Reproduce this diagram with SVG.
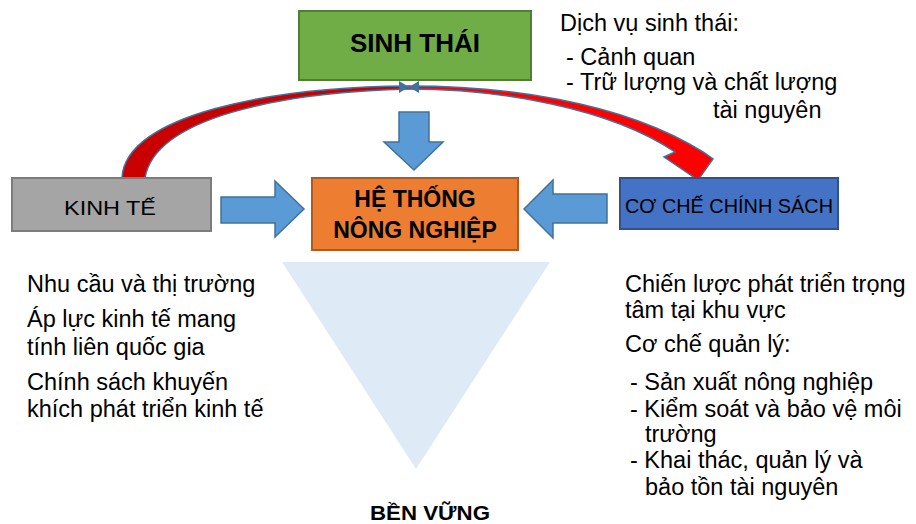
<svg xmlns="http://www.w3.org/2000/svg" width="916" height="524" viewBox="0 0 916 524">
<style>
.t{font-family:"Liberation Sans",Arial,sans-serif;fill:#000}
.b{font-weight:bold}
.arr{fill:#5B9BD5;stroke:#41719C;stroke-width:1.5;stroke-linejoin:miter}
.body{font-size:23.5px}
</style>
<rect width="916" height="524" fill="#fff"/>
<polygon id="tri" points="282,262 550,262 416,469" fill="#DEEAF6"/>
<g id="connectors">
  <path d="M122,178 C125,115 270,87 409,86 L409,89 C280,92 155,118 145,178 Z" fill="#C80000" stroke="#41719C" stroke-width="1.5"/>
  <path d="M409,86 C500,86 620,100 703,152 L713,159 L698,180 L664,157 L675,152 C610,108 500,89 409,89 Z" fill="#FF0000" stroke="#41719C" stroke-width="1.5"/>
  <polygon points="399,81 419,93 419,81 399,93" fill="#41719C"/>
  <polygon class="arr" points="399,112 429,112 429,142 443,142 414,170 384,142 399,142"/>
  <polygon class="arr" points="221,197 275,197 275,181 304,209 275,237 275,223 221,223"/>
  <polygon class="arr" points="607,194 553,194 553,180 524,209 553,238 553,223 607,223"/>
</g>
<g id="sinhthai">
  <rect x="299" y="11" width="232" height="69" fill="#70AD47" stroke="#507E32" stroke-width="2"/>
  <text class="t b" x="415" y="52" font-size="26" text-anchor="middle">SINH THÁI</text>
</g>
<g id="kinhte">
  <rect x="12" y="178" width="199" height="53" fill="#A5A5A5" stroke="#7C7C7C" stroke-width="2"/>
  <text class="t" x="64" y="215" font-size="21" textLength="92" lengthAdjust="spacingAndGlyphs">KINH TẾ</text>
</g>
<g id="hethong">
  <rect x="312" y="178" width="206" height="72" fill="#ED7D31" stroke="#AE5A21" stroke-width="2"/>
  <text class="t b" x="415" y="207" font-size="23" text-anchor="middle">HỆ THỐNG</text>
  <text class="t b" x="415" y="238" font-size="23" text-anchor="middle">NÔNG NGHIỆP</text>
</g>
<g id="cochevchinhsach">
  <rect x="620" y="178" width="218" height="51" fill="#4472C4" stroke="#2F528F" stroke-width="2"/>
  <text class="t" x="625" y="213" font-size="19.5" textLength="208" lengthAdjust="spacingAndGlyphs">CƠ CHẾ CHÍNH SÁCH</text>
</g>
<g id="dichvu" class="t body">
  <text x="560" y="31">Dịch vụ sinh thái:</text>
  <text x="566" y="65">- Cảnh quan</text>
  <text x="566" y="90">- Trữ lượng và chất lượng</text>
  <text x="713" y="118">tài nguyên</text>
</g>
<g id="kinhte-text" class="t body">
  <text x="27" y="292">Nhu cầu và thị trường</text>
  <text x="27" y="327">Áp lực kinh tế mang</text>
  <text x="27" y="355">tính liên quốc gia</text>
  <text x="27" y="390">Chính sách khuyến</text>
  <text x="27" y="417">khích phát triển kinh tế</text>
</g>
<g id="chinhsach-text" class="t body">
  <text x="625" y="292">Chiến lược phát triển trọng</text>
  <text x="625" y="318">tâm tại khu vực</text>
  <text x="625" y="352">Cơ chế quản lý:</text>
  <text x="630" y="390">- Sản xuất nông nghiệp</text>
  <text x="630" y="417">- Kiểm soát và bảo vệ môi</text>
  <text x="645" y="442">trường</text>
  <text x="630" y="468">- Khai thác, quản lý và</text>
  <text x="645" y="495">bảo tồn tài nguyên</text>
</g>
<g id="benvung">
  <text class="t b" x="370" y="520" font-size="21" textLength="120" lengthAdjust="spacingAndGlyphs">BỀN VỮNG</text>
</g>
</svg>
